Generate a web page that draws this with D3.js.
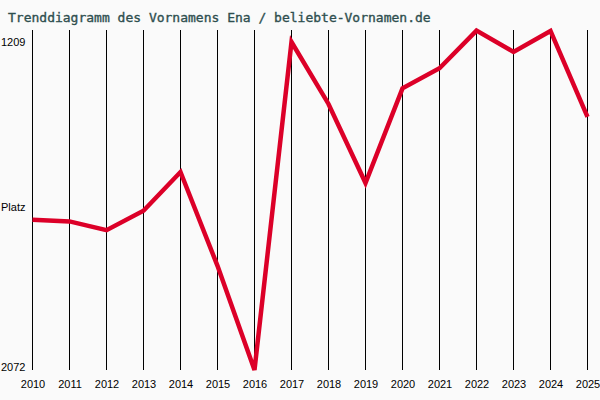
<!DOCTYPE html>
<html><head><meta charset="utf-8">
<script src="https://d3js.org/d3.v7.min.js"></script>
<style>body{margin:0;background:#fafafa;}svg{display:block;}</style>
</head><body>
<script>
const years = [2010,2011,2012,2013,2014,2015,2016,2017,2018,2019,2020,2021,2022,2023,2024,2025];
const ranks = [1677,1681,1704,1653,1551,1798,2072,1209,1372,1580,1331,1278,1179,1235,1180,1406];
const yLabels = ["1209","Platz","2072"];
const title = "Trenddiagramm des Vornamens Ena / beliebte-Vornamen.de";

const W = 600, H = 400;
const svg = d3.select("body").append("svg").attr("width", W).attr("height", H);
svg.append("rect").attr("width", W).attr("height", H).attr("fill", "#fafafa");

const x = d3.scalePoint().domain(years).range([32.5, 587.5]);
const y = d3.scaleLinear().domain([1209, 2072]).range([42, 370]);

svg.append("text").attr("x", 8).attr("y", 22)
  .attr("font-family", "DejaVu Sans Mono, monospace").attr("font-size", 13)
  .attr("fill", "#2f4f4f").attr("stroke", "#2f4f4f").attr("stroke-width", 0.35)
  .text(title);

svg.selectAll("line.grid").data(years).enter().append("line")
  .attr("class", "grid")
  .attr("x1", d => x(d)).attr("x2", d => x(d))
  .attr("y1", 30).attr("y2", 370)
  .attr("stroke", "#000").attr("stroke-width", 1);

const xAxis = d3.axisBottom(x).tickSize(0).tickPadding(0);
const gx = svg.append("g").attr("transform", "translate(0,380)").call(xAxis);
gx.select(".domain").remove();
gx.selectAll("text").attr("font-family", "Liberation Sans, Arial, sans-serif")
  .attr("font-size", 11).attr("fill", "#000").attr("dy", "0.71em");

const lab = svg.append("g").attr("font-family", "Liberation Sans, Arial, sans-serif")
  .attr("font-size", 11).attr("fill", "#000");
lab.append("text").attr("x", 1).attr("y", 46).text(yLabels[0]);
lab.append("text").attr("x", 1).attr("y", 211).text(yLabels[1]);
lab.append("text").attr("x", 1).attr("y", 371).text(yLabels[2]);

const line = d3.line().x((d, i) => x(years[i])).y(d => y(d));
svg.append("path").datum(ranks).attr("d", line)
  .attr("fill", "none").attr("stroke", "#dc0028").attr("stroke-width", 4.5)
  .attr("stroke-linejoin", "miter");
</script>
</body></html>
